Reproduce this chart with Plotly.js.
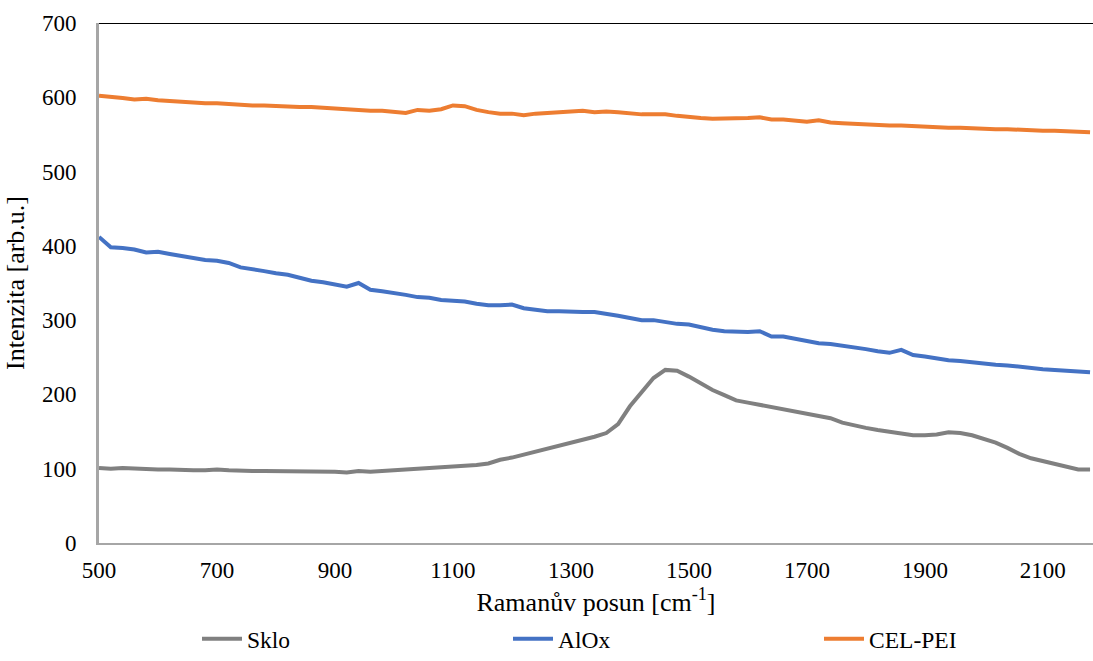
<!DOCTYPE html>
<html>
<head>
<meta charset="utf-8">
<script src="https://cdn.plot.ly/plotly-3.0.1.min.js"></script>
<style>html,body{margin:0;padding:0;background:#fff;}#chart{width:1093px;height:661px;}</style>
</head>
<body>
<div id="chart"></div>
<script>
// Raman shift grid [cm-1]
const ramanShift = [500,520,540,560,580,600,620,640,660,680,700,720,740,760,780,800,820,840,860,880,900,920,940,960,980,1000,1020,1040,1060,1080,1100,1120,1140,1160,1180,1200,1220,1240,1260,1280,1300,1320,1340,1360,1380,1400,1420,1440,1460,1480,1500,1520,1540,1560,1580,1600,1620,1640,1660,1680,1700,1720,1740,1760,1780,1800,1820,1840,1860,1880,1900,1920,1940,1960,1980,2000,2020,2040,2060,2080,2100,2120,2140,2160,2180];

const sklo = [101,100,101,100,100,99,99,98,98,98,99,98,97,97,97,97,97,97,96,97,96,95,97,96,97,97,98,99,100,101,102,103,105,107,112,115,119,123,126,131,135,138,143,148,160,184,204,222,233,232,224,215,206,199,192,189,186,183,181,178,174,171,168,162,158,155,152,150,147,145,145,146,149,148,145,140,135,128,120,114,110,106,102,99,99];

const alox = [412,398,397,395,391,392,389,386,384,381,380,377,371,369,366,363,361,357,353,351,348,345,350,341,339,337,334,331,330,327,326,325,322,320,320,321,316,314,312,312,311,311,311,309,306,303,300,300,297,295,294,290,287,285,284,284,285,278,278,275,272,269,268,266,264,261,258,256,260,253,251,248,246,245,243,241,240,239,237,236,234,233,232,231,230];

const celPei = [602,601,599,597,598,596,595,593,592,592,592,591,589,589,589,588,588,587,587,586,585,583,583,582,582,580,579,583,582,584,589,588,583,580,578,578,576,578,579,579,580,582,580,581,580,578,577,577,577,575,573,572,571,571,572,572,573,570,570,569,567,569,566,565,564,564,563,562,562,561,561,560,559,559,558,558,557,557,556,555,555,555,554,553,553];

const seriesNames = ["Sklo", "AlOx", "CEL-PEI"];
const xTicks = [500,700,900,1100,1300,1500,1700,1900,2100];
const yTicks = [0,100,200,300,400,500,600,700];

const colors = ["#808080", "#4472C4", "#ED7D31"];
const ys = [sklo, alox, celPei];

const traces = ys.map((y, i) => ({
  x: ramanShift,
  y: y,
  type: "scatter",
  mode: "lines",
  name: seriesNames[i],
  line: {color: colors[i], width: 4}
}));

const fam = "Liberation Serif, Times New Roman, serif";
const tickFont = {family: fam, color: "#000", size: 23};
const titleFont = {family: fam, color: "#000", size: 26};
const legendFont = {family: fam, color: "#000", size: 23.5};

const layout = {
  width: 1093,
  height: 661,
  margin: {l: 99, r: 0, t: 23, b: 118},
  paper_bgcolor: "#fff",
  plot_bgcolor: "#fff",
  font: tickFont,
  showlegend: true,
  xaxis: {
    range: [500, 2185],
    tickvals: xTicks,
    ticktext: xTicks.map(String),
    showgrid: false,
    zeroline: false,
    showline: true,
    linecolor: "#a6a6a6",
    linewidth: 2,
    ticks: "",
    ticklabelstandoff: 5,
    tickfont: tickFont,
    title: {text: "Ramanův posun [cm<sup>-1</sup>]", font: titleFont, standoff: 12}
  },
  yaxis: {
    range: [0, 700],
    tickvals: yTicks,
    ticktext: yTicks.map(String),
    showgrid: false,
    zeroline: false,
    showline: true,
    linecolor: "#a6a6a6",
    linewidth: 3,
    ticks: "",
    ticklabelstandoff: 15,
    tickfont: tickFont,
    title: {text: "Intenzita [arb.u.]", font: titleFont, standoff: 10}
  },
  shapes: [{
    type: "line", xref: "paper", x0: 0, x1: 1, yref: "y", y0: 700, y1: 700,
    line: {color: "#000", width: 2}
  }],
  legend: {
    orientation: "h",
    xref: "container", yref: "container",
    x: 197/1093, y: -0.01,
    xanchor: "left", yanchor: "bottom",
    entrywidth: 256, entrywidthmode: "pixels",
    itemwidth: 40,
    font: legendFont,
    bgcolor: "rgba(0,0,0,0)"
  }
};

Plotly.newPlot("chart", traces, layout, {staticPlot: true, displayModeBar: false});
</script>
</body>
</html>
